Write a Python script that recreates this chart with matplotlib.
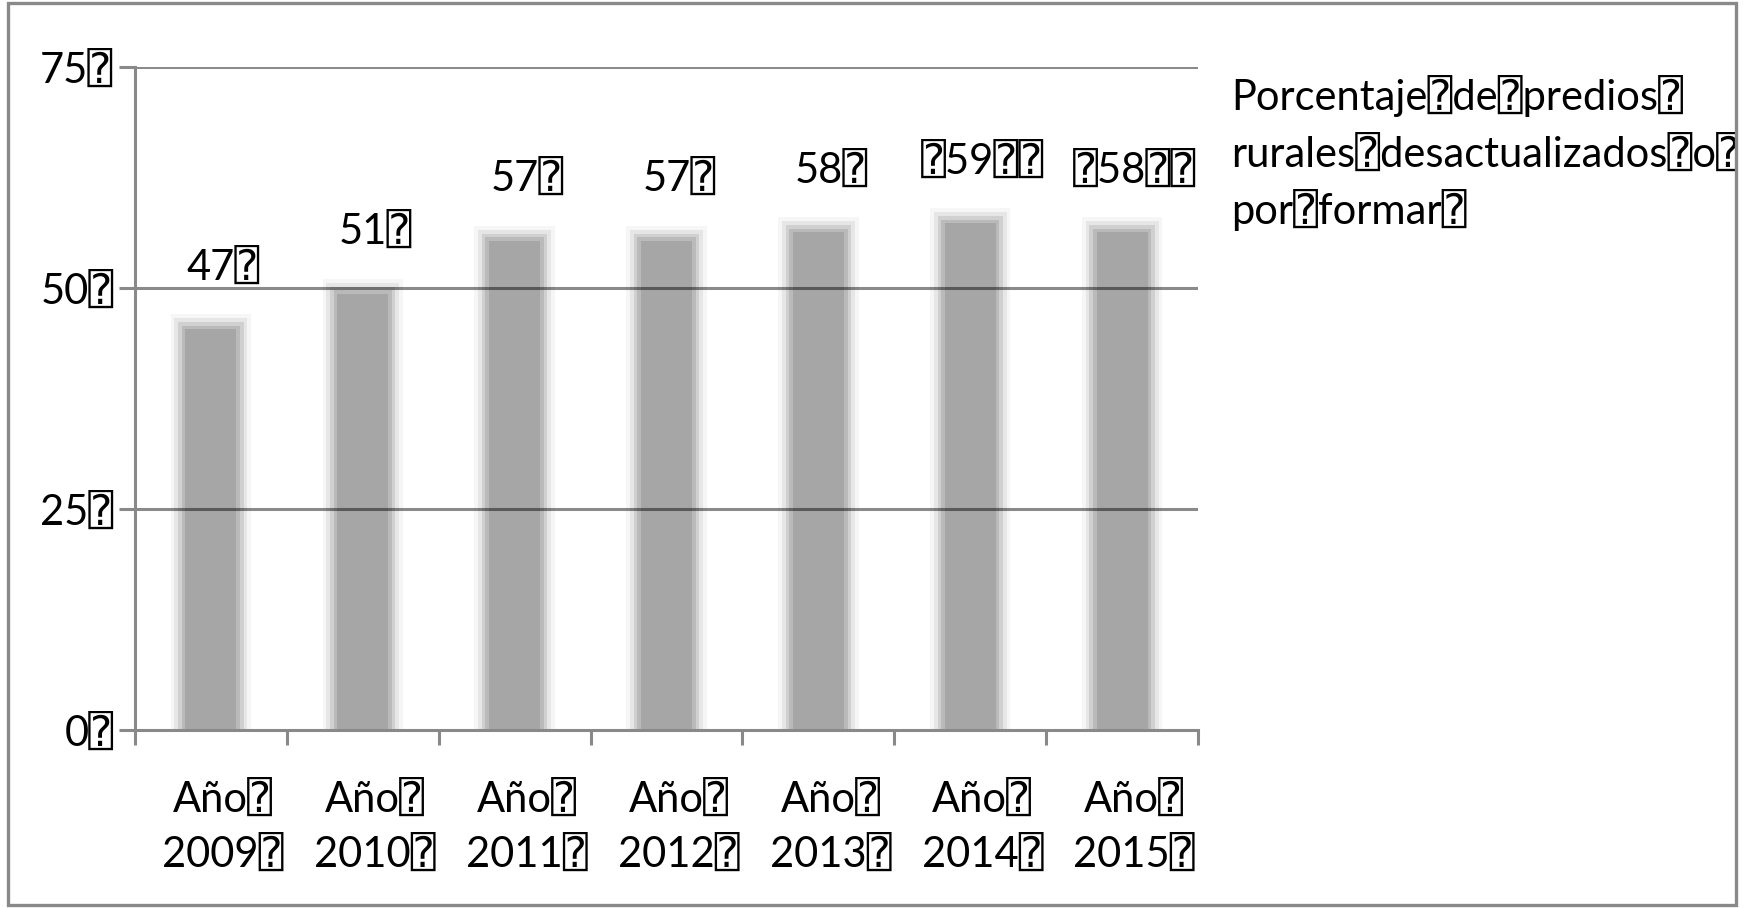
import matplotlib
matplotlib.use("Agg")
import matplotlib.pyplot as plt
from matplotlib.patches import Rectangle

plt.rcParams['font.family'] = ['Lato', 'DejaVu Sans', 'DejaVu Sans Mono']

BOX = "\u2370"
years = ["2009", "2010", "2011", "2012", "2013", "2014", "2015"]
values = [47, 51, 57, 57, 58, 59, 58]
value_labels = ["47" + BOX, "51" + BOX, "57" + BOX, "57" + BOX, "58" + BOX,
                BOX + "59" + BOX + BOX, BOX + "58" + BOX + BOX]
year_labels = ["Año" + BOX + "\n" + y + BOX for y in years]
yticks = [0, 25, 50, 75]
ytick_labels = [str(t) + BOX for t in yticks]
legend_lines = ["Porcentaje" + BOX + "de" + BOX + "predios" + BOX,
                "rurales" + BOX + "desactualizados" + BOX + "o" + BOX,
                "por" + BOX + "formar" + BOX]

W, H = 1748, 908
DPI = 100
fig = plt.figure(figsize=(W / DPI, H / DPI), dpi=DPI)
fig.patch.set_facecolor("white")

ax = fig.add_axes([135 / W, 1 - 730 / H, (1198 - 135) / W, (730 - 66.7) / H])
ax.set_xlim(-0.5, len(years) - 0.5)
ax.set_ylim(0, 75)

gray = "#898989"
x = list(range(len(years)))

# bars with soft glow edges
layers = [(0.53, "#f6f6f6", 0.0), (0.48, "#e6e6e6", 0.45), (0.43, "#d0d0d0", 0.9),
          (0.385, "#bababa", 1.3), (0.335, "#a6a6a6", 1.7)]
for i, (w, c, off) in enumerate(layers):
    ax.bar(x, [v - off for v in values], width=w, color=c, zorder=2 + i * 0.01,
           linewidth=0)

# gridlines on top, semi-transparent black
for t in yticks[1:]:
    ax.axhline(t, color="black", alpha=0.46, lw=2.2, zorder=5)

for s in ["top", "right"]:
    ax.spines[s].set_visible(False)
for s in ["left", "bottom"]:
    ax.spines[s].set_color(gray)
    ax.spines[s].set_linewidth(2.2)
    ax.spines[s].set_zorder(6)

ax.set_yticks(yticks)
ax.set_yticklabels(ytick_labels, fontsize=30)
ax.tick_params(axis="y", length=11.5, width=2.2, color=gray, pad=4)

ax.set_xticks([i - 0.5 for i in range(len(years) + 1)])
ax.set_xticklabels([])
ax.tick_params(axis="x", length=11, width=2.2, color=gray)

for i, lab in enumerate(year_labels):
    ax.text(i + 0.08, -0.075, lab, transform=ax.get_xaxis_transform(),
            ha="center", va="top", fontsize=30, linespacing=1.5)

for i, (v, lab) in enumerate(zip(values, value_labels)):
    ax.annotate(lab, (i, v), xytext=(9, 25), textcoords="offset points",
                ha="center", va="baseline", fontsize=30, zorder=7)

for k, line in enumerate(legend_lines):
    fig.text(1231 / W, 1 - (110 + 57 * k) / H, line, ha="left", va="baseline",
             fontsize=30)

# outer border
fig.patches.append(Rectangle((8 / W, 3 / H), (1736 - 8) / W, (905 - 3) / H,
                             transform=fig.transFigure, fill=False,
                             edgecolor=gray, linewidth=2.4, zorder=10))
# mask text beyond right border
fig.patches.append(Rectangle((1737 / W, 0), 1, 1, transform=fig.transFigure,
                             facecolor="white", edgecolor="none", zorder=9))

fig.savefig("out.png", dpi=DPI)
